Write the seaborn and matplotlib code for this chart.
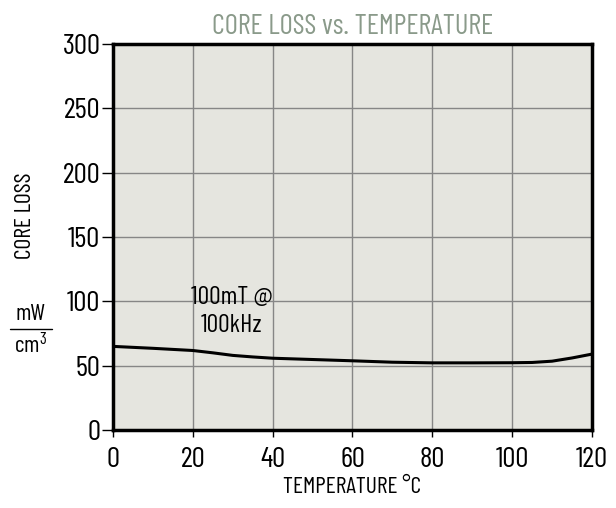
import matplotlib
matplotlib.use("Agg")
import matplotlib.pyplot as plt
import seaborn as sns
import pandas as pd
from matplotlib import font_manager

temperature = [0, 10, 20, 25, 30, 35, 40, 50, 60, 70, 80, 90, 100, 105, 110, 115, 120]
core_loss = [65, 63.5, 61.8, 60, 58, 56.8, 55.8, 54.8, 53.8, 52.7, 52.2, 52.2, 52.3, 52.5, 53.5, 56, 59]
x_ticks = [0, 20, 40, 60, 80, 100, 120]
y_ticks = [0, 50, 100, 150, 200, 250, 300]

df = pd.DataFrame({"temp": temperature, "loss": core_loss})

sns.set_theme(style="white")
names = {f.name for f in font_manager.fontManager.ttflist}
cond = [f for f in ["Barlow Condensed", "Asap Condensed", "Archivo Narrow"] if f in names][:1]
fam = cond + ["DejaVu Sans"]
plt.rcParams["font.family"] = fam
plt.rcParams["text.color"] = "black"
if cond:
    plt.rcParams["mathtext.fontset"] = "custom"
    plt.rcParams["mathtext.rm"] = cond[0]
    plt.rcParams["mathtext.it"] = cond[0]

fig = plt.figure(figsize=(6.16, 5.08), dpi=100)
ax = fig.add_axes([0.1834, 0.1535, 0.7776, 0.7599])
ax.set_facecolor("#e5e5df")

sns.lineplot(data=df, x="temp", y="loss", color="black", linewidth=2.2, ax=ax)

ax.set_xlim(0, 120)
ax.set_ylim(0, 300)
ax.set_xticks(x_ticks)
ax.set_yticks(y_ticks)
ax.grid(True, color="#868686", linewidth=1.0)
for s in ax.spines.values():
    s.set_color("black")
    s.set_linewidth(2.5)
ax.tick_params(axis="both", direction="out", width=1, colors="black",
               labelsize=21, left=True, bottom=True)
ax.tick_params(axis="y", length=8, pad=1)
ax.tick_params(axis="x", length=5, pad=7)

ax.set_xlabel("TEMPERATURE °C", fontsize=17, labelpad=3, color="black")
ax.set_ylabel("")
ax.set_title("CORE LOSS vs. TEMPERATURE", fontsize=20.5, color="#8a9a8a", pad=7)

ax.text(29.8, 92, "100mT @\n100kHz", ha="center", va="center", fontsize=18.5,
        linespacing=1.3)

fig.text(0.042, 0.575, "CORE LOSS", rotation=90, ha="center", va="center", fontsize=17)
fig.text(0.049, 0.360, "mW", ha="center", va="bottom", fontsize=17)
fig.text(0.049, 0.345, "cm$^3$", ha="center", va="top", fontsize=17)
fig.add_artist(plt.Line2D([0.016, 0.084], [0.352, 0.352], color="black", linewidth=1))

fig.savefig("out.png", dpi=100)
